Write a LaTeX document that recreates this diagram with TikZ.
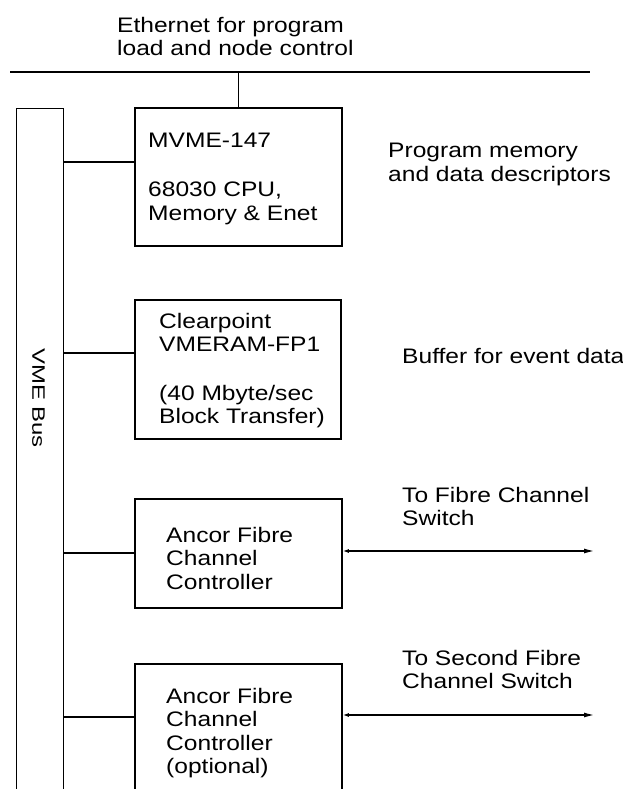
\documentclass[tikz,border=0pt]{standalone}
\usepackage{fontspec}
\setmainfont{Liberation Sans}
\newfontfamily\diagfont[FakeStretch=1.17]{Liberation Sans}
\newfontfamily\busfont[FakeStretch=1.33]{Liberation Sans}
\usetikzlibrary{arrows.meta}
\begin{document}
\begin{tikzpicture}[x=1pt,y=-1pt,
  box/.style={draw,line width=1.8pt,rectangle,inner sep=0pt,anchor=north west},
  busbox/.style={draw,line width=1.2pt,rectangle,inner sep=0pt,anchor=north west},
  txt/.style={inner sep=0pt,anchor=north west,align=left,font=\diagfont\fontsize{21}{23.5}\selectfont},
  conn/.style={line width=1.7pt},
  enet/.style={line width=1.4pt},
  fib/.style={line width=1.7pt,{Latex[length=6pt,width=4pt]}-{Latex[length=11pt,width=5pt]}}]
\path[use as bounding box] (0,0) rectangle (623,789);
\clip (0,0) rectangle (623,789);

% ethernet
\coordinate (eL) at (10,72);
\coordinate (eR) at (590,72);
\draw[enet] (eL) -- (eR);
\node[txt] (ethlbl) at (117,17) {Ethernet for program\\load and node control};

% VME bus
\node[busbox,minimum width=47pt,minimum height=720pt] (bus) at (16,108) {};
\node[rotate=-90,inner sep=0pt,font=\busfont\fontsize{18}{20}\selectfont] (buslbl) at (38.5,398) {VME Bus};

% boxes
\node[box,minimum width=207pt,minimum height=138pt] (mvme) at (134,107) {};
\node[box,minimum width=206pt,minimum height=139pt] (clear) at (134,299) {};
\node[box,minimum width=207pt,minimum height=109pt] (anc1) at (134,498) {};
\node[box,minimum width=207pt,minimum height=160pt] (anc2) at (134,663) {};

\draw[enet] (mvme.north) -- (mvme.north |- eL);

% box texts
\node[txt] (t1a) at (148,133) {MVME-147};
\node[txt] (t1b) at (148,182) {68030 CPU,\\Memory \& Enet};
\node[txt] (t2) at (159,313) {Clearpoint\\VMERAM-FP1\\[25pt](40 Mbyte/sec\\Block Transfer)};
\node[txt] (t3) at (166,527) {Ancor Fibre\\Channel\\Controller};
\node[txt] (t4) at (166,688) {Ancor Fibre\\Channel\\Controller\\(optional)};

% side labels
\node[txt] (s1) at (388,143) {Program memory\\and data descriptors};
\node[txt] (s2) at (402,348) {Buffer for event data};
\node[txt] (s3) at (402,487) {To Fibre Channel\\Switch};
\node[txt] (s4) at (402,650) {To Second Fibre\\Channel Switch};

% bus connectors
\draw[conn] (bus.east |- 0,162) -- (mvme.west |- 0,162);
\draw[conn] (bus.east |- 0,353) -- (clear.west |- 0,353);
\draw[conn] (bus.east |- 0,553) -- (anc1.west |- 0,553);
\draw[conn] (bus.east |- 0,717) -- (anc2.west |- 0,717);

% fibre links
\coordinate (f1) at (595,551);
\coordinate (f2) at (595,715);
\draw[fib] (anc1.east |- f1) -- (f1);
\draw[fib] (anc2.east |- f2) -- (f2);
\end{tikzpicture}
\end{document}
